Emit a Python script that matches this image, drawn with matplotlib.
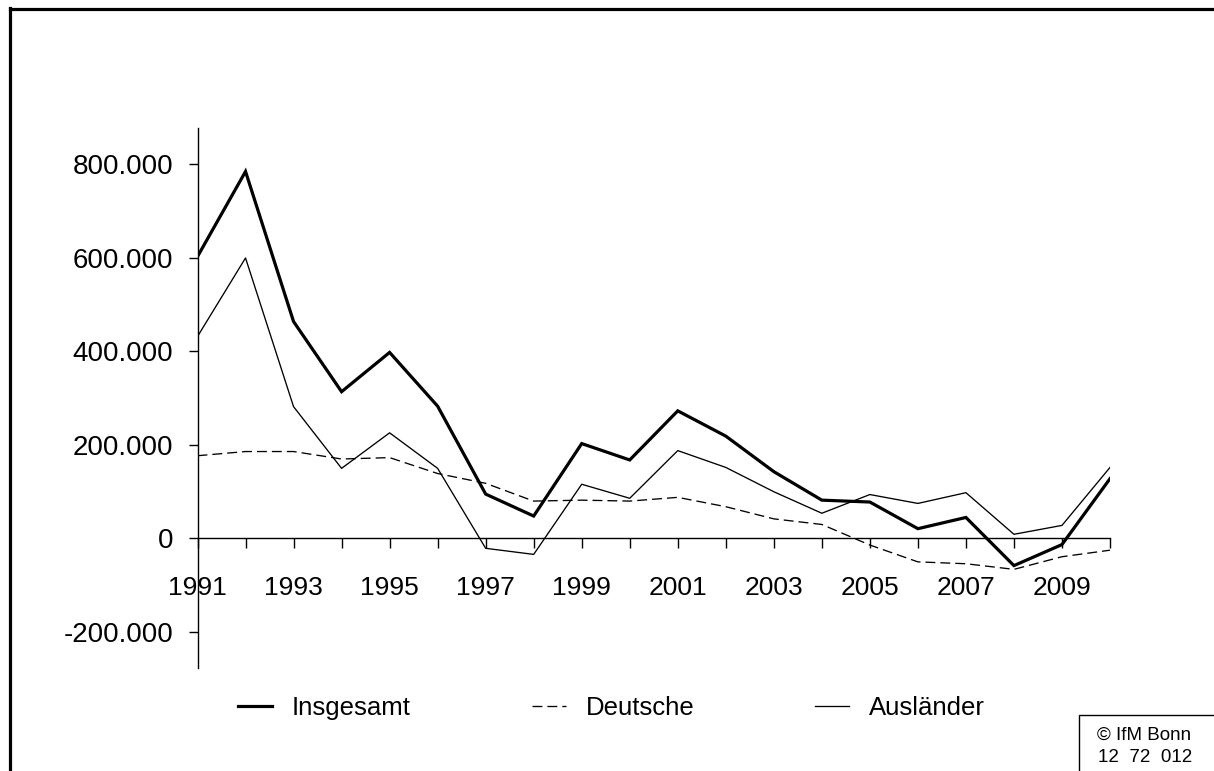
import matplotlib
matplotlib.use("Agg")
import matplotlib.pyplot as plt
from matplotlib.lines import Line2D
from matplotlib.patches import Rectangle
from matplotlib.ticker import FuncFormatter

plt.rcParams["font.family"] = ["Liberation Sans", "DejaVu Sans"]

# Data (values in persons)

years = list(range(1991, 2011))
insgesamt = [603000, 785000, 464000, 314000, 398000, 283000, 95000, 48000,
             203000, 168000, 273000, 219000, 143000, 82000, 78000, 21000,
             45000, -58000, -13000, 128000]
deutsche = [177000, 186000, 186000, 170000, 173000, 139000, 118000, 80000,
            82000, 80000, 88000, 68000, 42000, 30000, -14000, -50000,
            -54000, -66000, -39000, -25000]
auslaender = [432000, 600000, 282000, 150000, 226000, 150000, -21000, -34000,
              116000, 86000, 188000, 152000, 100000, 54000, 94000, 75000,
              98000, 9000, 28000, 152000]
y_ticks = [-200000, 0, 200000, 400000, 600000, 800000]


def de_fmt(v, pos):
    return f"{int(v):,}".replace(",", ".")


def main():
    W, H = 1214, 771
    fig = plt.figure(figsize=(W / 100, H / 100), dpi=100)

    # axes placed in pixel terms
    left, right = 197.5, 1110
    top, bottom = 128, 668
    ax = fig.add_axes([left / W, 1 - bottom / H, (right - left) / W, (bottom - top) / H])

    thin = 0.95
    ax.plot(years, insgesamt, color="black", lw=2.3, label="Insgesamt",
            solid_joinstyle="miter")
    ax.plot(years, deutsche, color="black", lw=thin, dashes=(7.5, 3.8),
            label="Deutsche")
    ax.plot(years, auslaender, color="black", lw=thin, label="Ausländer")

    ax.set_xlim(1991, 2010)
    ax.set_ylim(-277000, 878000)

    for s in ["top", "right"]:
        ax.spines[s].set_visible(False)
    ax.spines["bottom"].set_position(("data", 0))
    ax.spines["bottom"].set_linewidth(1.0)
    ax.spines["left"].set_linewidth(1.0)

    ax.set_xticks(years)
    ax.set_xticklabels([str(y) if (y - 1991) % 2 == 0 else "" for y in years])
    ax.set_yticks(y_ticks)
    ax.yaxis.set_major_formatter(FuncFormatter(de_fmt))

    ax.tick_params(axis="x", direction="out", length=7.2, width=1.0, pad=19.5,
                   labelsize=19)
    ax.tick_params(axis="y", direction="out", length=6.5, width=1.0, pad=11,
                   labelsize=20)

    # legend
    ax.legend(loc="center left", bbox_to_anchor=(238 / W, 1 - 708 / H),
              bbox_transform=fig.transFigure, ncol=3, frameon=False,
              fontsize=18.5, handlelength=1.32, handletextpad=0.78,
              columnspacing=4.7, borderpad=0, borderaxespad=0)

    # outer frame (top and left edges)
    fig.add_artist(Line2D([9.5 / W, 1], [1 - 8.5 / H, 1 - 8.5 / H],
                          transform=fig.transFigure, color="black", lw=2.3))
    fig.add_artist(Line2D([9.5 / W, 9.5 / W], [0, 1 - 7.5 / H],
                          transform=fig.transFigure, color="black", lw=2.3))

    # copyright box
    fig.add_artist(Rectangle((1079 / W, -0.05), 0.2, 0.05 + 1 - 715 / H,
                             transform=fig.transFigure, fill=False,
                             edgecolor="black", lw=1.0))
    fig.text(1097 / W, 1 - 735 / H, "© IfM Bonn", fontsize=13.5,
             va="center", ha="left")
    fig.text(1098 / W, 1 - 757 / H, "12  72  012", fontsize=13.5,
             va="center", ha="left")

    fig.savefig("out.png", dpi=100)
    plt.close(fig)


if __name__ == "__main__":
    main()
